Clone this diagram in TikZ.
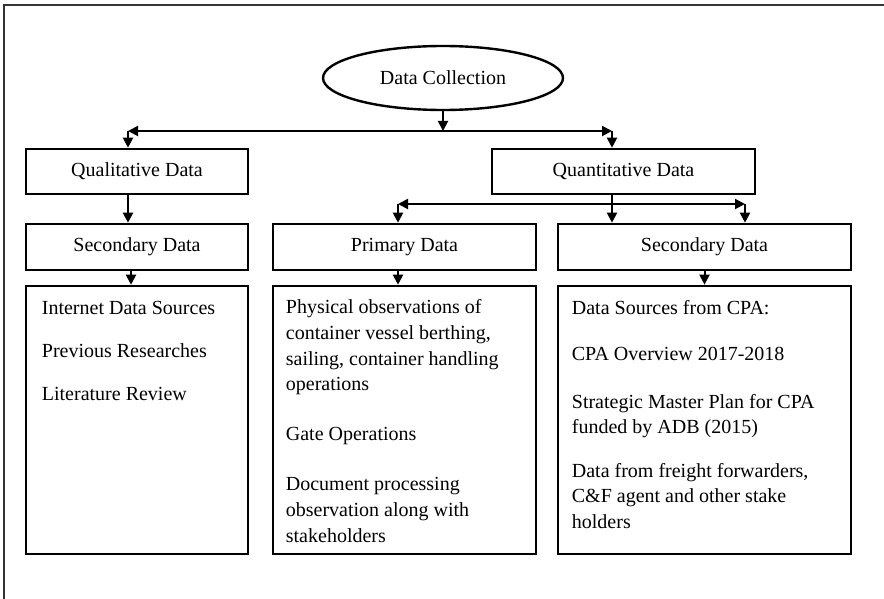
\documentclass[tikz,border=0pt]{standalone}
\usepackage{fontspec}
\setmainfont{Liberation Serif}
\usetikzlibrary{arrows.meta,shapes.geometric}
\tikzset{
  txt/.style={font=\fontsize{20bp}{25.6bp}\selectfont},
  headbox/.style={draw, line width=2.6bp, rectangle, inner sep=0pt, txt},
  bigbox/.style={draw, line width=2.6bp, rectangle, inner sep=0pt, minimum height=268bp},
  bodytext/.style={txt, anchor=north west, inner sep=0pt, align=left},
  conn/.style={line width=2bp, -{Triangle[length=10bp,width=10bp]}},
  bothconn/.style={line width=2bp, {Triangle[length=10bp,width=10bp]}-{Triangle[length=10bp,width=10bp]}},
}
\begin{document}
\begin{tikzpicture}[x=1bp,y=-1bp]
\useasboundingbox (0,0) rectangle (884,599);
% frame
\draw[line width=2.8bp, black!80] (4,599) -- (4,5) -- (884,5);

% nodes
\node[draw, ellipse, line width=2.4bp, minimum width=240bp, minimum height=64bp, inner sep=0pt, txt] (dc) at (443,78) {Data Collection};

\node[headbox, minimum width=222bp, minimum height=45bp] (qual) at (137,171.5) {Qualitative Data};
\node[headbox, minimum width=263bp, minimum height=45bp] (quant) at (623.5,171.5) {Quantitative Data};

\node[headbox, minimum width=222bp, minimum height=46bp] (sec1) at (137,247) {Secondary Data};
\node[headbox, minimum width=263bp, minimum height=46bp] (prim) at (404.5,247) {Primary Data};
\node[headbox, minimum width=293bp, minimum height=46bp] (sec2) at (704.5,247) {Secondary Data};

\node[bigbox, minimum width=222bp] (c1) at (137,420) {};
\node[bigbox, minimum width=263bp] (c2) at (404.5,420) {};
\node[bigbox, minimum width=293bp] (c3) at (704.5,420) {};

\node[bodytext] (t1) at ([xshift=17bp,yshift=-16bp]c1.north west) {Internet Data Sources\\[17.4bp]Previous Researches\\[17.4bp]Literature Review};
\node[bodytext] (t2) at ([xshift=14bp,yshift=-15bp]c2.north west) {Physical observations of\\container vessel berthing,\\sailing, container handling\\operations\\[24.5bp]Gate Operations\\[24.5bp]Document processing\\observation along with\\stakeholders};
\node[bodytext] (t3) at ([xshift=15bp,yshift=-16bp]c3.north west) {Data Sources from CPA:\\[20bp]CPA Overview 2017-2018\\[22bp]Strategic Master Plan for CPA\\funded by ADB (2015)\\[18bp]Data from freight forwarders,\\C\&F agent and other stake\\holders};

% junction coordinates
\coordinate (h1l) at (128,131);
\coordinate (h1r) at (612,131);
\coordinate (h2l) at (398,204);
\coordinate (h2r) at (745,204);

% connectors
\draw[conn] (dc.south) -- (dc.south |- h1l);
\draw[bothconn] (h1l) -- (h1r);
\draw[conn] (h1l) -- (h1l |- qual.north);
\draw[conn] (h1r) -- (h1r |- quant.north);

\draw[conn] (qual.south -| h1l) -- (h1l |- sec1.north);
\draw[conn] (quant.south -| h1r) -- (h1r |- sec2.north);
\draw[bothconn] (h2l) -- (h2r);
\draw[conn] (h2l) -- (h2l |- prim.north);
\draw[conn] (h2r) -- (h2r |- sec2.north);

\draw[conn] ([xshift=-6bp]sec1.south) -- ([xshift=-6bp]c1.north);
\draw[conn] (prim.south -| h2l) -- (h2l |- c2.north);
\draw[conn] (sec2.south) -- (c3.north);
\end{tikzpicture}
\end{document}
